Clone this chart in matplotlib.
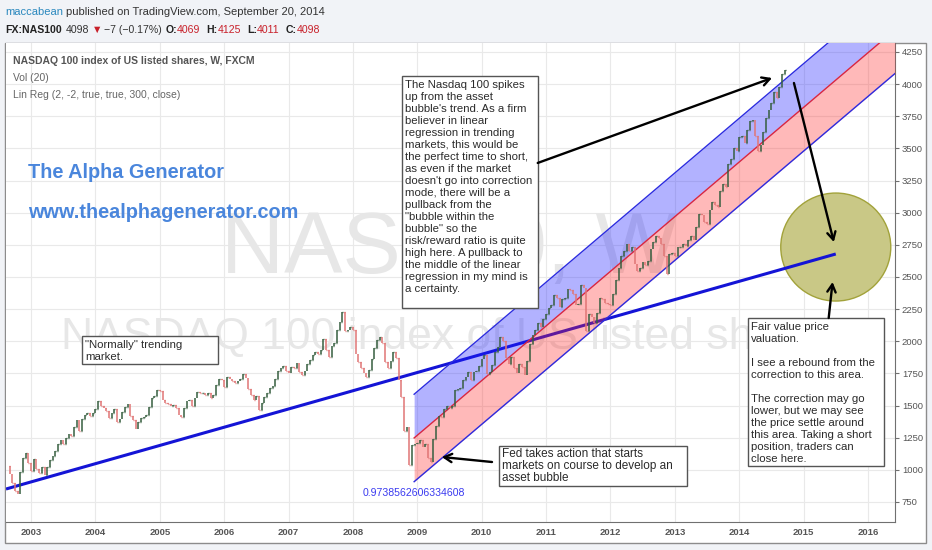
import numpy as np
import matplotlib.pyplot as plt
from matplotlib.patches import Rectangle, Ellipse
from matplotlib.transforms import offset_copy

W, H = 932, 550

# NAS100 closes, two per month (mid-month, month end)
close_2002 = [1030, 965, 900, 835, 810, 985, 1090, 1130, 1050, 990]  # from August
close_2003 = [1085, 1010, 975, 1020, 960, 1020, 1075, 1105, 1150, 1200, 1235, 1200,
              1250, 1275, 1265, 1335, 1385, 1305, 1395, 1425, 1445, 1420, 1440, 1470]
close_2004 = [1535, 1495, 1480, 1455, 1400, 1440, 1475, 1370, 1395, 1450, 1490, 1515,
              1420, 1385, 1315, 1370, 1400, 1410, 1425, 1485, 1560, 1575, 1620, 1615]
close_2005 = [1540, 1520, 1515, 1500, 1505, 1480, 1425, 1410, 1480, 1535, 1545, 1495,
              1560, 1605, 1595, 1600, 1585, 1600, 1555, 1580, 1660, 1705, 1700, 1645]
close_2006 = [1720, 1710, 1690, 1675, 1690, 1705, 1745, 1715, 1630, 1585, 1545, 1575,
              1465, 1520, 1570, 1600, 1640, 1655, 1710, 1770, 1790, 1805, 1770, 1755]
close_2007 = [1800, 1795, 1830, 1760, 1735, 1770, 1820, 1855, 1890, 1920, 1900, 1935,
              2020, 1930, 1880, 1965, 1990, 2090, 2150, 2225, 2080, 2090, 2110, 2085]
close_2008 = [1900, 1840, 1790, 1750, 1720, 1780, 1860, 1950, 2010, 2030, 1990, 1840,
              1790, 1850, 1920, 1870, 1700, 1570, 1300, 1330, 1040, 1190, 1200, 1210]
close_2009 = [1230, 1180, 1200, 1090, 1060, 1240, 1340, 1420, 1410, 1475, 1500, 1480,
              1500, 1620, 1630, 1635, 1700, 1720, 1760, 1695, 1760, 1770, 1810, 1860]
close_2010 = [1890, 1745, 1760, 1815, 1920, 1955, 2030, 2000, 1870, 1825, 1880, 1790,
              1750, 1820, 1800, 1740, 1850, 1980, 2050, 2090, 2140, 2110, 2170, 2215]
close_2011 = [2260, 2285, 2360, 2340, 2270, 2330, 2340, 2405, 2400, 2370, 2280, 2290,
              2440, 2415, 2080, 2210, 2190, 2140, 2220, 2335, 2330, 2300, 2290, 2280]
close_2012 = [2370, 2480, 2570, 2660, 2700, 2755, 2700, 2730, 2600, 2545, 2570, 2615,
              2590, 2625, 2720, 2775, 2820, 2800, 2760, 2660, 2520, 2680, 2690, 2660]
close_2013 = [2730, 2735, 2760, 2740, 2790, 2820, 2790, 2885, 2990, 2985, 2930, 2910,
              3020, 3080, 3060, 3045, 3170, 3220, 3200, 3380, 3420, 3500, 3480, 3590]
close_2014 = [3600, 3540, 3640, 3710, 3720, 3595, 3480, 3530, 3630, 3735, 3800, 3850,
              3940, 3890, 3980, 4080, 4110]

years = list(range(2002, 2015))
yearly = [close_2002, close_2003, close_2004, close_2005, close_2006, close_2007, close_2008,
          close_2009, close_2010, close_2011, close_2012, close_2013, close_2014]

# drawn lines
trend_x = [2002.61, 2015.50]
trend_y = [851, 2679]
lr_start = 2008.95      # first bar of the 300-bar regression
lr_mid0 = 1248          # regression value at lr_start
lr_slope = 425          # points per year
lr_dev = 340            # 2 std devs
lr_pearson = "0.9738562606334608"

x_ticks = list(range(2003, 2017))
y_ticks = list(range(750, 4251, 250))
X0, X1 = 2002.61, 2016.42
Y0, Y1 = 594.4, 4320

plt.rcParams['font.family'] = ['Liberation Sans', 'DejaVu Sans']

fig = plt.figure(figsize=(W / 100, H / 100), dpi=100, facecolor='#f1f3f7')

def px(x, y, w=0, h=0):
    return x / W, 1 - (y + h) / H, w / W, h / H

# chart frame
bx, by, bw, bh = px(5, 43, 921, 500)
fig.patches.append(Rectangle((bx, by), bw, bh, transform=fig.transFigure,
                             facecolor='white', edgecolor='#8c8c8c', lw=1, zorder=-5))

l, b, w, h = px(6, 43, 889, 479)
ax = fig.add_axes([l, b, w, h])
ax.set_xlim(X0, X1)
ax.set_ylim(Y0, Y1)
ax.set_axisbelow(True)
ax.grid(True, color='#e9e9e9', lw=0.8)
for s in ['left', 'top']:
    ax.spines[s].set_visible(False)
for s in ['right', 'bottom']:
    ax.spines[s].set_color('#707070')
ax.set_xticks(x_ticks)
ax.set_xticklabels([str(v) for v in x_ticks])
ax.set_yticks(y_ticks)
ax.set_yticklabels([str(v) for v in y_ticks])
ax.yaxis.tick_right()
ax.tick_params(axis='y', length=3, color='#707070', labelsize=6.8, labelcolor='#555555', pad=2)
ax.tick_params(axis='x', length=0, labelsize=6.8, labelcolor='#555555', pad=4)
for lab in ax.get_xticklabels():
    lab.set_fontweight('bold')

# watermarks
ax.text(0.4994, 0.566, "NAS100, W", transform=ax.transAxes, ha='center', va='center',
        fontsize=63, color='#e7e7e7', zorder=0.6)
ax.text(0.4994, 0.386, "NASDAQ 100 index of US listed shares", transform=ax.transAxes,
        ha='center', va='center', fontsize=32, color='#e7e7e7', zorder=0.6)

# price bars
t, c = [], []
for yr, vals in zip(years, yearly):
    first = 24 - len(vals) if yr == 2002 else 0
    for k, v in enumerate(vals):
        t.append(yr + (first + k + 1) / 24)
        c.append(v)
t = np.array(t)
c = np.array(c)
o, cl, tb = c[:-1], c[1:], t[1:]
up = cl >= o
for mask, col in [(up, '#365e3f'), (~up, '#e07575')]:
    ax.vlines(tb[mask], o[mask], cl[mask], color=col, lw=1.1, zorder=4)
    ax.hlines(o[mask], tb[mask] - 0.012, tb[mask], color=col, lw=1, zorder=4)
    ax.hlines(cl[mask], tb[mask], tb[mask] + 0.012, color=col, lw=1, zorder=4)

# long trend line and fair value zone
ax.add_patch(Ellipse((2015.5, 2733), 1.709, 840, facecolor='#c9c886',
                     edgecolor='#a2a23a', lw=1, zorder=1.5))
ax.plot(trend_x, trend_y, color='#1414d6', lw=2.2, zorder=2, solid_capstyle='butt')

# linear regression channel
xe = np.array([lr_start, X1])
mid = lr_mid0 + lr_slope * (xe - lr_start)
ax.fill_between(xe, mid, mid + lr_dev, color=(0.12, 0.12, 1.0, 0.34), lw=0, zorder=3)
ax.fill_between(xe, mid - lr_dev, mid, color=(1.0, 0.15, 0.15, 0.32), lw=0, zorder=3)
ax.plot(xe, mid + lr_dev, color='#2b2be0', lw=1, zorder=3.5)
ax.plot(xe, mid - lr_dev, color='#2b2be0', lw=1, zorder=3.5)
ax.plot(xe, mid, color='#e0263a', lw=1, zorder=3.5)
ax.text(lr_start, 820, lr_pearson, ha='center', va='center', color='#3a3af0',
        fontsize=7.6, zorder=5)

# notes: box plus one text per line, 12 px apart
def note(x0, x1, y_top, y_bot, text, size=8.2):
    ax.add_patch(Rectangle((x0, y_bot), x1 - x0, y_top - y_bot, facecolor='white',
                           edgecolor='#555555', lw=1, zorder=6))
    for i, line in enumerate(text.split('\n')):
        tr = offset_copy(ax.transData, fig=fig, x=3, y=-(8.5 + 12 * i), units='dots')
        ax.text(x0, y_top, line, transform=tr, ha='left', va='center', fontsize=size,
                color='#2b2b2b', zorder=7)

note(2008.76, 2010.87, 4063, 2259,
     "The Nasdaq 100 spikes\nup from the asset\nbubble's trend. As a firm\n"
     "believer in linear\nregression in trending\nmarkets, this would be\n"
     "the perfect time to short,\nas even if the market\ndoesn't go into correction\n"
     "mode, there will be a\npullback from the\n\"bubble within the\nbubble\" so the\n"
     "risk/reward ratio is quite\nhigh here. A pullback to\nthe middle of the linear\n"
     "regression in my mind is\na certainty.")
note(2003.79, 2005.90, 2041, 1823, "\"Normally\" trending\nmarket.")
note(2010.27, 2013.19, 1186, 874,
     "Fed takes action that starts\nmarkets on course to develop an\nasset bubble", 8.5)
note(2014.13, 2016.25, 2181, 1030,
     "Fair value price\nvaluation.\n\nI see a rebound from the\ncorrection to this area.\n\n"
     "The correction may go\nlower, but we may see\nthe price settle around\n"
     "this area. Taking a short\nposition, traders can\nclose here.")

arrows = [((2010.87, 3387), (2014.51, 4048)),
          ((2014.85, 4009), (2015.47, 2772)),
          ((2015.39, 2181), (2015.45, 2461)),
          ((2010.16, 1061), (2009.38, 1100))]
for start, end in arrows:
    ax.annotate('', xy=end, xytext=start, zorder=8,
                arrowprops=dict(arrowstyle='->,head_length=0.55,head_width=0.3',
                                color='black', lw=1.7, shrinkA=0, shrinkB=0))

# header and legend text
renderer = fig.canvas.get_renderer()

def run(x, y, parts, size):
    for txt, color, weight, gap in parts:
        tt = fig.text(x / W, 1 - y / H, txt, color=color, fontweight=weight,
                      fontsize=size, ha='left', va='center')
        x += tt.get_window_extent(renderer=renderer).width + gap

RED = '#c8202a'
run(5, 12, [("maccabean", '#2a88be', 'normal', 3),
            ("published on TradingView.com, September 20, 2014", '#333333', 'normal', 0)], 8)
run(5, 30, [("FX:NAS100", '#222222', 'bold', 4), ("4098", '#333333', 'normal', 3),
            ("\u25bc", RED, 'normal', 1), ("\u22127 (\u22120.17%)", '#333333', 'normal', 4),
            ("O:", '#222222', 'bold', 0), ("4069", RED, 'normal', 6),
            ("H:", '#222222', 'bold', 0), ("4125", RED, 'normal', 6),
            ("L:", '#222222', 'bold', 0), ("4011", RED, 'normal', 6),
            ("C:", '#222222', 'bold', 0), ("4098", RED, 'normal', 0)], 7.6)

fig.text(13 / W, 1 - 61 / H, "NASDAQ 100 index of US listed shares, W, FXCM",
         fontsize=7.5, fontweight='bold', color='#555555', va='center')
fig.text(13 / W, 1 - 78 / H, "Vol (20)", fontsize=7.5, color='#666666', va='center')
fig.text(13 / W, 1 - 95 / H, "Lin Reg (2, -2, true, true, 300, close)", fontsize=7.5,
         color='#666666', va='center')

fig.text(28 / W, 1 - 172 / H, "The Alpha Generator", fontsize=14.3, fontweight='bold',
         color='#4a86dc', va='center')
fig.text(28 / W, 1 - 212 / H, "www.thealphagenerator.com", fontsize=14.3, fontweight='bold',
         color='#4a86dc', va='center')

fig.savefig('out.png', dpi=100, facecolor=fig.get_facecolor())
